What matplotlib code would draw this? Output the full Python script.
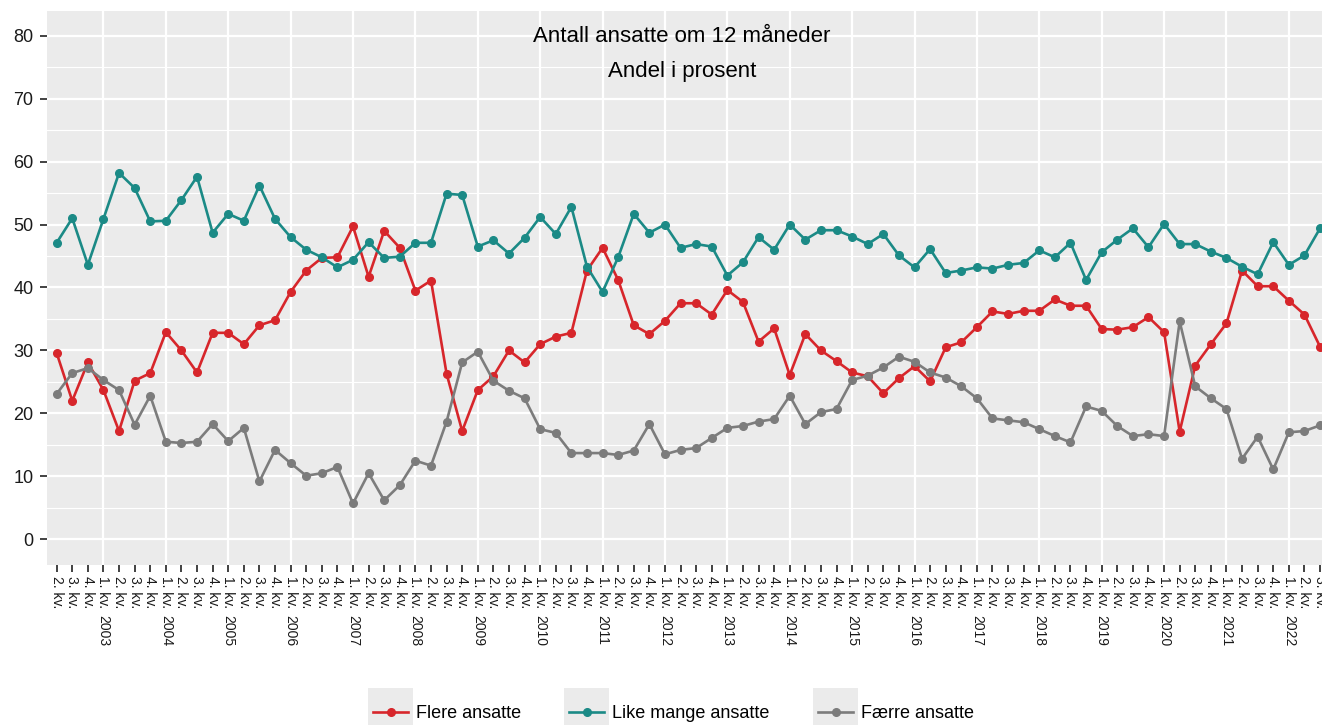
import matplotlib
matplotlib.use("Agg")
import matplotlib.pyplot as plt
import numpy as np
from matplotlib.lines import Line2D
from matplotlib.patches import Rectangle

plt.rcParams['font.family'] = ['Liberation Sans', 'DejaVu Sans']

# Andel i prosent, 2. kv. 2002 - 3. kv. 2022
flere = [29.6, 22.0, 28.1, 23.7, 17.2, 25.2, 26.4, 32.9, 30.0, 26.5, 32.8, 32.8, 31.0, 34.0, 34.8,
         39.3, 42.7, 44.7, 44.8, 49.7, 41.7, 49.0, 46.3, 39.5, 41.1, 26.3,
         17.2, 23.7, 25.9, 30.0, 28.1, 31.0, 32.2, 32.8, 42.7, 46.3, 41.2,
         34.0, 32.6, 34.7, 37.5, 37.5, 35.7, 39.6, 37.7,
         31.4, 33.5, 26.1, 32.6, 30.0, 28.3, 26.5, 25.9,
         23.2, 25.6, 27.5, 25.1, 30.5, 31.3, 33.7, 36.2, 35.8, 36.3, 36.3, 38.1, 37.1, 37.1,
         33.4, 33.3, 33.7, 35.3, 32.9, 17.1, 27.6, 31.0, 34.3,
         42.7, 40.2, 40.2, 37.9, 35.7, 30.6]
like_mange = [47.1, 51.0, 43.6, 50.9, 58.2, 55.8, 50.5, 50.6, 53.9, 57.6,
              48.7, 51.7, 50.6, 56.2, 50.9, 48.0, 46.0, 44.8, 43.2, 44.4,
              47.2, 44.7, 44.9, 47.1, 47.1, 54.9, 54.7, 46.5, 47.5, 45.4,
              47.9, 51.2, 48.5, 52.8, 43.3, 39.3, 44.8, 51.7, 48.7, 50.0,
              46.3, 46.9, 46.5, 41.9, 44.0, 48.0, 46.0, 50.0, 47.6, 49.1,
              49.1, 48.1, 46.9, 48.5, 45.1, 43.2, 46.1, 42.3, 42.7, 43.2,
              43.0, 43.6, 43.9, 45.9, 44.8, 47.1, 41.2, 45.6, 47.6, 49.4,
              46.4, 50.1, 46.9, 46.9, 45.7, 44.7, 43.3, 42.1, 47.2, 43.6,
              45.1, 49.4]
faerre = [23.1, 26.4, 27.2, 25.3, 23.7, 18.2, 22.8, 15.5, 15.3, 15.5,
          18.3, 15.6, 17.7, 9.2, 14.2, 12.1, 10.1, 10.5, 11.5, 5.7,
          10.5, 6.2, 8.6, 12.5, 11.7, 18.7, 28.1, 29.8, 25.2, 23.6,
          22.4, 17.5, 16.9, 13.7, 13.7, 13.7, 13.4, 14.1, 18.3, 13.5,
          14.2, 14.5, 16.1, 17.7, 18.0, 18.7, 19.1, 22.8, 18.3, 20.2,
          20.7, 25.3, 26.0, 27.3, 29.0, 28.2, 26.5, 25.7, 24.3, 22.4,
          19.2, 18.9, 18.6, 17.5, 16.4, 15.4, 21.1, 20.4, 18.0, 16.4,
          16.7, 16.4, 34.6, 24.3, 22.4, 20.7, 12.8, 16.3, 11.1, 17.0,
          17.2, 18.1]

series_names = ["Flere ansatte", "Like mange ansatte", "Færre ansatte"]
colors = ["#d7262b", "#1b8a86", "#7c7c7c"]

n = len(flere)
x = np.arange(n)
quarter = [(1 + i) % 4 + 1 for i in range(n)]
year = [2002 + (i + 1) // 4 for i in range(n)]
quarter_labels = [f"{q}. kv." for q in quarter]

W, H = 1322, 725
fig = plt.figure(figsize=(W / 100, H / 100), dpi=100)
ax = fig.add_axes([47.3 / W, 1 - 564.5 / H, (1329.4 - 47.3) / W, (564.5 - 10.5) / H])
ax.set_facecolor('#EBEBEB')
for sp in ax.spines.values():
    sp.set_visible(False)

ax.set_xlim(-0.6, n - 1 + 0.6)
ax.set_ylim(-4, 84)
ax.set_yticks(range(0, 81, 10))
ax.set_yticks(range(5, 80, 10), minor=True)
ax.set_xticks(x)
ax.set_xticklabels(quarter_labels, rotation=-90, fontsize=10, color='#1a1a1a')
ax.tick_params(axis='x', length=5, width=1.3, color='#333333', pad=3.5)
ax.tick_params(axis='y', which='major', length=5, width=1.3, color='#333333', pad=5,
               labelsize=13, labelcolor='#1a1a1a')
ax.tick_params(axis='y', which='minor', length=0)

ax.set_axisbelow(True)
ax.yaxis.grid(True, which='major', color='white', lw=1.6)
ax.yaxis.grid(True, which='minor', color='white', lw=0.8)
for i in x:
    if quarter[i] == 1:
        ax.axvline(i, color='white', lw=1.6, zorder=0.5)
        ax.text(i, -0.091, str(year[i]), transform=ax.get_xaxis_transform(),
                rotation=-90, ha='center', va='top', fontsize=10, color='#1a1a1a')

for vals, name, c in zip([flere, like_mange, faerre], series_names, colors):
    ax.plot(x, vals, color=c, lw=1.9, marker='o', ms=5.5, label=name, zorder=3)

fig.text(682 / W, 1 - 37 / H, "Antall ansatte om 12 måneder", ha='center', va='center', fontsize=16)
fig.text(682 / W, 1 - 72 / H, "Andel i prosent", ha='center', va='center', fontsize=16)

# legend drawn below the plot, ggplot style keys
key_left = [368, 564, 813]
for left, name, c in zip(key_left, series_names, colors):
    fig.patches.append(Rectangle((left / W, 1 - 733 / H), 45 / W, 45 / H,
                                 transform=fig.transFigure, facecolor='#EBEBEB',
                                 edgecolor='none'))
    fig.lines.append(Line2D([(left + 5) / W, (left + 40) / W], [1 - 712 / H] * 2,
                            transform=fig.transFigure, color=c, lw=1.9))
    fig.lines.append(Line2D([(left + 22.5) / W], [1 - 712 / H], transform=fig.transFigure,
                            color=c, marker='o', ms=5.5))
    fig.text((left + 48) / W, 1 - 713 / H, name, ha='left', va='center', fontsize=13)

fig.savefig("out.png", dpi=100)
